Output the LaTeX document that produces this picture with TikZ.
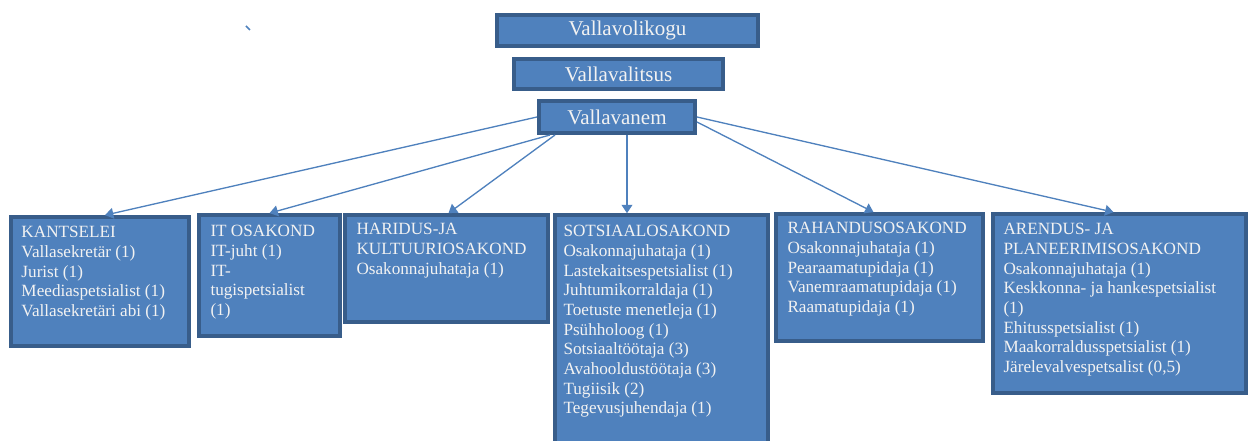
\documentclass[tikz,border=0pt]{standalone}
\usepackage{fontspec}
\setmainfont{Liberation Serif}
\usetikzlibrary{arrows.meta,calc,fit}
\definecolor{boxfill}{HTML}{4F81BD}
\definecolor{boxline}{HTML}{385D8A}
\definecolor{boxtext}{HTML}{F2F2F2}
\begin{document}
\begin{tikzpicture}[x=0.6pt,y=-0.6pt,>={Triangle[length=5pt,width=6.5pt]},
  box/.style={draw=boxline,line width=2.2pt,fill=boxfill,inner sep=0pt},
  head/.style={box,text=boxtext,font=\rmfamily\fontsize{12.6}{14}\selectfont},
  dept/.style={text=boxtext,font=\rmfamily\fontsize{10.3}{11.8}\selectfont,align=left,anchor=north west,inner sep=0pt},
  link/.style={->,boxfill,line width=0.8pt}]
  \useasboundingbox (0,0) rectangle (1250,441);
  % council, government and mayor
  \node[head,minimum width=156.8pt,minimum height=18.8pt] (volikogu) at (627.5,30.5) {Vallavolikogu};
  \node[head,minimum width=125.6pt,minimum height=18.2pt] (valitsus) at (618.5,74) {Vallavalitsus};
  \node[head,minimum width=93.8pt,minimum height=19.4pt] (vanem) at (617,117) {Vallavanem};
  % departments
  \node[box,fit={(11,217) (189,346)}] (kants) {};
  \node[box,fit={(199,215) (340,336)}] (itosak) {};
  \node[box,fit={(345,215) (548,322)}] (haridus) {};
  \node[box,fit={(555,215) (768,460)}] (sots) {};
  \node[box,fit={(776,214) (983,341)}] (rahandus) {};
  \node[box,fit={(993,214) (1246,393)}] (arendus) {};
  \node[dept] (kantstxt) at ($(kants.north west)+(12,11)$)
    {KANTSELEI\\Vallasekretär (1)\\Jurist (1)\\Meediaspetsialist (1)\\Vallasekretäri abi (1)};
  \node[dept] (ittxt) at ($(itosak.north west)+(13,12)$)
    {IT OSAKOND\\IT-juht (1)\\IT-\\tugispetsialist\\(1)};
  \node[dept] (haridustxt) at ($(haridus.north west)+(13,10)$)
    {HARIDUS-JA\\KULTUURIOSAKOND\\Osakonnajuhataja (1)};
  \node[dept] (sotstxt) at ($(sots.north west)+(10,12)$)
    {SOTSIAALOSAKOND\\Osakonnajuhataja (1)\\Lastekaitsespetsialist (1)\\Juhtumikorraldaja (1)\\Toetuste menetleja (1)\\Psühholoog (1)\\Sotsiaaltöötaja (3)\\Avahooldustöötaja (3)\\Tugiisik (2)\\Tegevusjuhendaja (1)};
  \node[dept] (rahandustxt) at ($(rahandus.north west)+(13,10)$)
    {RAHANDUSOSAKOND\\Osakonnajuhataja (1)\\Pearaamatupidaja (1)\\Vanemraamatupidaja (1)\\Raamatupidaja (1)};
  \node[dept] (arendustxt) at ($(arendus.north west)+(12,11)$)
    {ARENDUS- JA\\PLANEERIMISOSAKOND\\Osakonnajuhataja (1)\\Keskkonna- ja hankespetsialist\\(1)\\Ehitusspetsialist (1)\\Maakorraldusspetsialist (1)\\Järelevalvespetsalist (0,5)};
  % links from the mayor
  \draw[link] (vanem.west) -- ($(kants.north)+(5,0)$);
  \draw[link] ($(vanem.south west)+(13,0)$) -- (itosak.north);
  \draw[link] ($(vanem.south west)+(18,0)$) -- ($(haridus.north)+(2,0)$);
  \draw[link] ($(vanem.south)+(10,0)$) coordinate (vs) -- (vs |- sots.north);
  \draw[link] ($(vanem.east)+(0,5)$) -- ($(rahandus.north)+(-6,0)$);
  \draw[link] (vanem.east) -- ($(arendus.north)+(-6,0)$);
  % stray mark
  \draw[boxfill,line width=1pt] (246,26) -- (250,30);
\end{tikzpicture}
\end{document}
